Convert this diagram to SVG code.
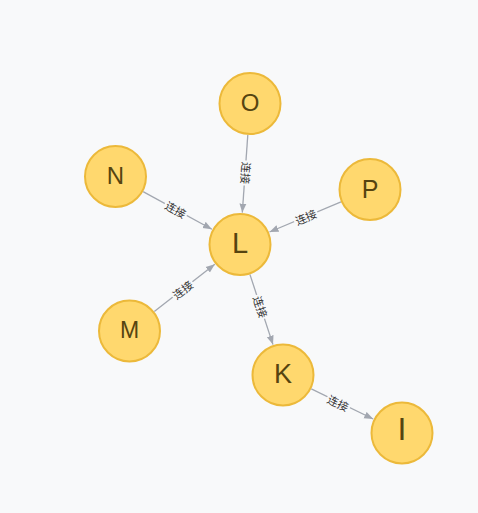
<svg xmlns="http://www.w3.org/2000/svg" width="478" height="513" viewBox="0 0 478 513">
<defs>
<marker id="arr" markerUnits="userSpaceOnUse" markerWidth="10" markerHeight="8" refX="9" refY="4" orient="auto">
<path d="M0,0.5 L9,4 L0,7.5 z" fill="#a2a7b0"/>
</marker>
<style>
.edge{stroke:#a2a7b0;stroke-width:1.3;fill:none;marker-end:url(#arr)}
.lbg{fill:#f8f9fa}
.lbl{font-family:"Liberation Sans","Noto Sans CJK SC",sans-serif;font-size:11px;fill:#333;text-anchor:middle;dominant-baseline:central}
.node circle{fill:#ffd86e;stroke:#ecb93a;stroke-width:2}
.node text{font-family:"Liberation Sans",Arial,sans-serif;fill:#564410;text-anchor:middle;dominant-baseline:central}
</style>
</defs>
<rect width="478" height="513" fill="#f8f9fa"/>
<g id="edges">
<line class="edge" x1="247.8" y1="134.9" x2="242.3" y2="212.6"/>
<line class="edge" x1="143.1" y1="191.6" x2="211.9" y2="229.2"/>
<line class="edge" x1="341.0" y1="201.8" x2="269.5" y2="232.0"/>
<line class="edge" x1="154.3" y1="311.6" x2="214.8" y2="264.2"/>
<line class="edge" x1="249.9" y1="274.4" x2="273.0" y2="344.6"/>
<line class="edge" x1="311.3" y1="388.8" x2="373.2" y2="419.0"/>
<g transform="translate(245.5,173) rotate(94.06)"><rect class="lbg" x="-12.5" y="-6" width="25" height="12"/><text class="lbl">连接</text></g>
<g transform="translate(175.5,210) rotate(28.64)"><rect class="lbg" x="-12.5" y="-6" width="25" height="12"/><text class="lbl">连接</text></g>
<g transform="translate(306,217.5) rotate(-22.93)"><rect class="lbg" x="-12.5" y="-6" width="25" height="12"/><text class="lbl">连接</text></g>
<g transform="translate(183,290) rotate(-38.05)"><rect class="lbg" x="-12.5" y="-6" width="25" height="12"/><text class="lbl">连接</text></g>
<g transform="translate(260,307) rotate(71.76)"><rect class="lbg" x="-12.5" y="-6" width="25" height="12"/><text class="lbl">连接</text></g>
<g transform="translate(338,403.5) rotate(25.99)"><rect class="lbg" x="-12.5" y="-6" width="25" height="12"/><text class="lbl">连接</text></g>
</g>
<g id="node-O" class="node"><circle cx="250" cy="103.5" r="30.5"/><text x="250" y="102.5" font-size="24">O</text></g>
<g id="node-N" class="node"><circle cx="115.5" cy="176.5" r="30.5"/><text x="115.5" y="175.5" font-size="24">N</text></g>
<g id="node-P" class="node"><circle cx="370" cy="189.5" r="30.5"/><text x="370" y="188.5" font-size="25">P</text></g>
<g id="node-L" class="node"><circle cx="240" cy="244.5" r="30.5"/><text x="240" y="242.5" font-size="29">L</text></g>
<g id="node-M" class="node"><circle cx="129.5" cy="331" r="30.5"/><text x="129.5" y="330" font-size="23">M</text></g>
<g id="node-K" class="node"><circle cx="283" cy="375" r="30.5"/><text x="283" y="373.5" font-size="27">K</text></g>
<g id="node-I" class="node"><circle cx="402" cy="433" r="30.5"/><text x="402" y="429" font-size="32">I</text></g>
</svg>
